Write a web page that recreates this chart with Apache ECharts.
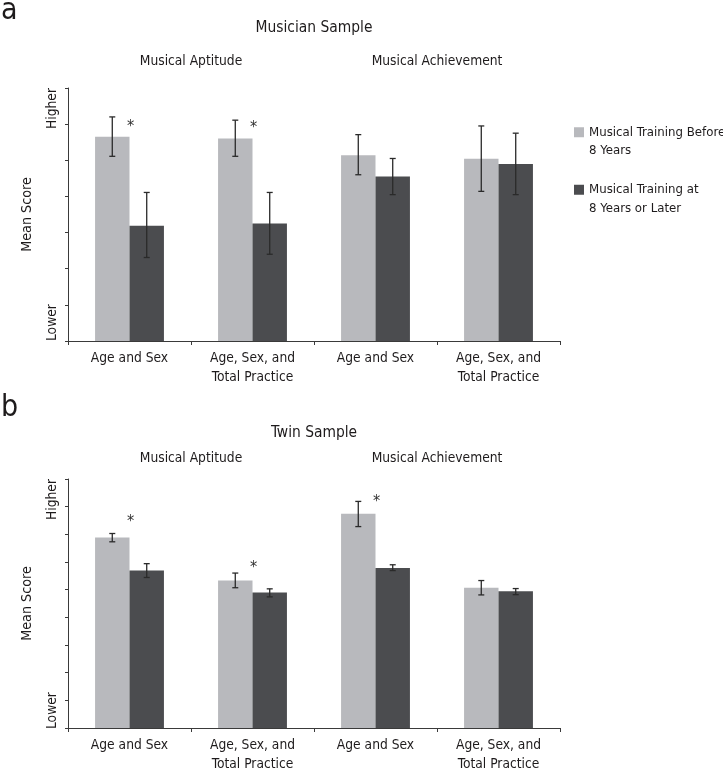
<!DOCTYPE html>
<html>
<head>
<meta charset="utf-8">
<script src="https://cdn.jsdelivr.net/npm/echarts@6/dist/echarts.min.js"></script>
<style>html,body{margin:0;padding:0;background:#fff;}#main{width:723px;height:774px;}</style>
</head>
<body>
<div id="main"></div>
<script>
// ---- data ----
const categories = ['Age and Sex', 'Age, Sex, and\nTotal Practice', 'Age and Sex', 'Age, Sex, and\nTotal Practice'];
const groupLabels = ['Musical Aptitude', 'Musical Achievement'];
const panelTitles = ['Musician Sample', 'Twin Sample'];
const panelLetters = ['a', 'b'];
const seriesNames = ['Musical Training Before\n8 Years', 'Musical Training at\n8 Years or Later'];
const yEndLabels = ['Lower', 'Higher'];
const yAxisName = 'Mean Score';

// Panel a (Musician sample), scale 0..7
const musicianBefore     = [5.65, 5.60, 5.14, 5.04];
const musicianBeforeLow  = [5.11, 5.11, 4.60, 4.14];
const musicianBeforeHigh = [6.20, 6.11, 5.71, 5.95];
const musicianLater      = [3.19, 3.25, 4.55, 4.90];
const musicianLaterLow   = [2.31, 2.40, 4.05, 4.05];
const musicianLaterHigh  = [4.11, 4.11, 5.05, 5.75];
const musicianStars      = [6.02, 5.97, null, null];
const musicianMax = 7;

// Panel b (Twin sample), scale 0..9
const twinBefore     = [6.89, 5.33, 7.74, 5.07];
const twinBeforeLow  = [6.73, 5.07, 7.28, 4.81];
const twinBeforeHigh = [7.03, 5.60, 8.19, 5.33];
const twinLater      = [5.69, 4.90, 5.78, 4.94];
const twinLaterLow   = [5.44, 4.74, 5.69, 4.82];
const twinLaterHigh  = [5.94, 5.03, 5.90, 5.04];
const twinStars      = [7.56, 5.88, 8.28, null];
const twinMax = 9;

// ---- style / layout ----
const FONT = "'DejaVu Sans Condensed', 'Liberation Sans Narrow', 'Roboto Condensed', 'Liberation Sans', sans-serif";
const FS = 13.7;
const TXT = '#1e1b1c';
const LIGHT = '#b8b9bd';
const DARK = '#4b4c4f';
const AXIS = '#3a3a3a';
const G_LEFT = 68, G_WIDTH = 492;
const grids = [{left: G_LEFT, top: 88, width: G_WIDTH, height: 253},
               {left: G_LEFT, top: 479, width: G_WIDTH, height: 250}];
const BAR_FRAC = 0.28;

const chart = echarts.init(document.getElementById('main'), null, {renderer: 'canvas'});

function errRender(side) {
  return function (params, api) {
    const c = api.value(0);
    const lo = api.coord([c, api.value(1)]);
    const hi = api.coord([c, api.value(2)]);
    const band = api.size([1, 0])[0];
    const x = lo[0] + side * band * BAR_FRAC / 2;
    const cap = 3;
    const st = {stroke: '#2a2a2a', lineWidth: 1.3};
    return {type: 'group', children: [
      {type: 'line', shape: {x1: x, y1: lo[1], x2: x, y2: hi[1]}, style: st},
      {type: 'line', shape: {x1: x - cap, y1: lo[1], x2: x + cap, y2: lo[1]}, style: st},
      {type: 'line', shape: {x1: x - cap, y1: hi[1], x2: x + cap, y2: hi[1]}, style: st}
    ]};
  };
}
function starRender(params, api) {
  const p = api.coord([api.value(0), api.value(1)]);
  return {type: 'text', x: p[0] + 1, y: p[1] + 3,
    style: {text: '*', fill: '#333', font: '16px ' + FONT, align: 'center', verticalAlign: 'middle'}};
}
function errData(lo, hi) { return lo.map((v, i) => [i, v, hi[i]]); }
function starData(s) { return s.map((v, i) => v == null ? null : [i, v]).filter(d => d); }

const panels = [
  {before: musicianBefore, bLo: musicianBeforeLow, bHi: musicianBeforeHigh,
   later: musicianLater, lLo: musicianLaterLow, lHi: musicianLaterHigh, stars: musicianStars, max: musicianMax},
  {before: twinBefore, bLo: twinBeforeLow, bHi: twinBeforeHigh,
   later: twinLater, lLo: twinLaterLow, lHi: twinLaterHigh, stars: twinStars, max: twinMax}
];

const xAxis = [], yAxis = [], series = [], graphic = [];
panels.forEach((p, k) => {
  xAxis.push({type: 'category', gridIndex: k, data: categories,
    axisLine: {lineStyle: {color: AXIS, width: 1}},
    axisTick: {show: true, length: 4, lineStyle: {color: AXIS}},
    axisLabel: {color: TXT, fontFamily: FONT, fontSize: FS, lineHeight: 19, margin: 8, interval: 0}});
  yAxis.push({type: 'value', gridIndex: k, min: 0, max: p.max, interval: 1,
    name: yAxisName, nameLocation: 'middle', nameGap: 34, nameRotate: 90,
    nameTextStyle: {color: TXT, fontFamily: FONT, fontSize: FS + 0.5},
    splitLine: {show: false},
    axisLine: {show: true, lineStyle: {color: AXIS, width: 1}},
    axisTick: {show: true, length: 3, lineStyle: {color: AXIS}},
    axisLabel: {show: false}});
  series.push({name: seriesNames[0], type: 'bar', xAxisIndex: k, yAxisIndex: k, data: p.before,
    barWidth: (BAR_FRAC * 100) + '%', barGap: '0%', itemStyle: {color: LIGHT}, silent: true});
  series.push({name: seriesNames[1], type: 'bar', xAxisIndex: k, yAxisIndex: k, data: p.later,
    barWidth: (BAR_FRAC * 100) + '%', barGap: '0%', itemStyle: {color: DARK}, silent: true});
  series.push({type: 'custom', xAxisIndex: k, yAxisIndex: k, renderItem: errRender(-1),
    data: errData(p.bLo, p.bHi), encode: {x: 0, y: [1, 2]}, z: 5, silent: true});
  series.push({type: 'custom', xAxisIndex: k, yAxisIndex: k, renderItem: errRender(1),
    data: errData(p.lLo, p.lHi), encode: {x: 0, y: [1, 2]}, z: 5, silent: true});
  series.push({type: 'custom', xAxisIndex: k, yAxisIndex: k, renderItem: starRender,
    data: starData(p.stars), encode: {x: 0, y: 1}, z: 6, silent: true});

  const g = grids[k];
  const cx = g.left + g.width / 2;
  const q = g.width / 4;
  const letterY = k === 0 ? -4 : 393;
  const titleY = k === 0 ? 28 : 433;
  const groupY = k === 0 ? 61 : 458;
  graphic.push({type: 'text', left: 1, top: letterY,
    style: {text: panelLetters[k], fill: TXT, font: '30px ' + FONT}});
  graphic.push({type: 'text', x: cx, y: titleY,
    style: {text: panelTitles[k], fill: TXT, font: '15.4px ' + FONT, align: 'center', verticalAlign: 'middle'}});
  graphic.push({type: 'text', x: g.left + q, y: groupY,
    style: {text: groupLabels[0], fill: TXT, font: FS + 'px ' + FONT, align: 'center', verticalAlign: 'middle'}});
  graphic.push({type: 'text', x: g.left + 3 * q, y: groupY,
    style: {text: groupLabels[1], fill: TXT, font: FS + 'px ' + FONT, align: 'center', verticalAlign: 'middle'}});
  // end labels along the y axis
  graphic.push({type: 'text', x: 52, y: g.top + g.height, rotation: Math.PI / 2,
    style: {text: yEndLabels[0], fill: TXT, font: FS + 'px ' + FONT, align: 'left', verticalAlign: 'middle'}});
  graphic.push({type: 'text', x: 52, y: g.top, rotation: Math.PI / 2,
    style: {text: yEndLabels[1], fill: TXT, font: FS + 'px ' + FONT, align: 'right', verticalAlign: 'middle'}});
});

chart.setOption({
  animation: false,
  backgroundColor: '#fff',
  grid: grids,
  xAxis: xAxis,
  yAxis: yAxis,
  series: series,
  legend: {data: seriesNames, orient: 'vertical', left: 574, top: 104.5, padding: 0,
    itemWidth: 10, itemHeight: 10, itemGap: 2, icon: 'rect', selectedMode: false,
    formatter: name => ' \n' + name,
    textStyle: {color: TXT, fontFamily: FONT, fontSize: 13.1, lineHeight: 18.5}},
  graphic: graphic
});
</script>
</body>
</html>
